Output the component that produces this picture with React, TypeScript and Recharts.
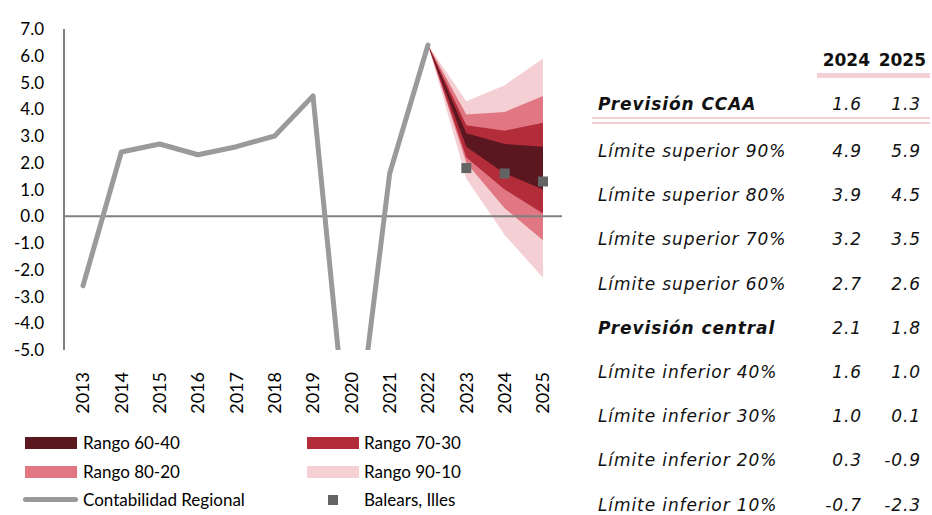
import { ComposedChart, Area, Line, XAxis, YAxis, ReferenceLine } from "recharts"

const years = ["2013", "2014", "2015", "2016", "2017", "2018", "2019", "2020", "2021", "2022", "2023", "2024", "2025"]
const contabilidad = [-2.6, 2.4, 2.7, 2.3, 2.6, 3.0, 4.5, -10.0, 1.6, 6.4, null, null, null]
const balears = [null, null, null, null, null, null, null, null, null, null, 1.8, 1.6, 1.3]

// fan starts at the last observed year
const fanYears = ["2022", "2023", "2024", "2025"]
const sup90 = [6.4, 4.3, 4.9, 5.9]
const sup80 = [6.4, 3.8, 3.9, 4.5]
const sup70 = [6.4, 3.4, 3.2, 3.5]
const sup60 = [6.4, 3.1, 2.7, 2.6]
const inf40 = [6.4, 2.6, 1.6, 1.0]
const inf30 = [6.4, 2.2, 1.0, 0.1]
const inf20 = [6.4, 2.0, 0.3, -0.9]
const inf10 = [6.4, 1.4, -0.7, -2.3]

const yTicks = [-5, -4, -3, -2, -1, 0, 1, 2, 3, 4, 5, 6, 7]

const tableYears = ["2024", "2025"]
const ccaa = ["1.6", "1.3"]
const tableRows = [
  { label: "Límite superior 90%", v: ["4.9", "5.9"], bold: false },
  { label: "Límite superior 80%", v: ["3.9", "4.5"], bold: false },
  { label: "Límite superior 70%", v: ["3.2", "3.5"], bold: false },
  { label: "Límite superior 60%", v: ["2.7", "2.6"], bold: false },
  { label: "Previsión central", v: ["2.1", "1.8"], bold: true },
  { label: "Límite inferior 40%", v: ["1.6", "1.0"], bold: false },
  { label: "Límite inferior 30%", v: ["1.0", "0.1"], bold: false },
  { label: "Límite inferior 20%", v: ["0.3", "-0.9"], bold: false },
  { label: "Límite inferior 10%", v: ["-0.7", "-2.3"], bold: false },
]

const data = years.map((year, i) => {
  const f = fanYears.indexOf(year)
  const row: any = { year, contabilidad: contabilidad[i], balears: balears[i] }
  if (f >= 0) {
    row.b90 = [inf10[f], sup90[f]]
    row.b80 = [inf20[f], sup80[f]]
    row.b70 = [inf30[f], sup70[f]]
    row.b60 = [inf40[f], sup60[f]]
  }
  return row
})

const axisFont = "Lato, 'Open Sans', sans-serif"
const tableFont = "'DejaVu Sans', Verdana, sans-serif"

const C6040 = "#5a1720"
const C7030 = "#b22c3a"
const C8020 = "#e07783"
const C9010 = "#f4d0d5"
const GREY = "#9a9a9c"
const SQUARE = "#646464"

function YearTick(props: any) {
  const { x, y, payload } = props
  return (
    <g transform={`translate(${x},${y + 14}) rotate(-90)`}>
      <text textAnchor="end" dy="0.36em" fontSize={18} fontFamily={axisFont} fill="#000">
        {payload.value}
      </text>
    </g>
  )
}

function SquareDot(props: any) {
  const { cx, cy, value, index } = props
  if (value == null || cy == null) return <g key={index} />
  return <rect key={index} x={cx - 5} y={cy - 5} width={10} height={10} fill={SQUARE} />
}

function Swatch({ color }: { color: string }) {
  return <div style={{ width: 52, height: 12, background: color }} />
}

const legendText: any = { position: "absolute", fontFamily: axisFont, fontSize: 17, lineHeight: "20px", color: "#000", whiteSpace: "nowrap" }
const cell: any = { position: "absolute", fontFamily: tableFont, fontSize: 17, lineHeight: "18px", color: "#111", whiteSpace: "nowrap", letterSpacing: 0.9 }

export default function App() {
  const rowTop = (c: number) => c - 9
  return (
    <div style={{ position: "absolute", left: 0, top: 0, width: 932, height: 515, background: "#fff", overflow: "hidden" }}>
      <div style={{ position: "absolute", left: 0, top: 0 }}>
        <ComposedChart width={580} height={420} data={data} margin={{ top: 29, right: 18, left: 0, bottom: 0 }}>
          <XAxis
            dataKey="year"
            axisLine={false}
            tickLine={false}
            height={70}
            interval={0}
            padding={{ left: 19, right: 19 }}
            tick={<YearTick />}
          />
          <YAxis
            domain={[-5, 7]}
            ticks={yTicks}
            allowDataOverflow
            width={64}
            tickLine={false}
            tickMargin={14}
            axisLine={{ stroke: "#808080", strokeWidth: 2 }}
            tickFormatter={(v: number) => v.toFixed(1)}
            tick={{ fontSize: 17, fontFamily: axisFont, fill: "#000" }}
          />
          <ReferenceLine y={0} stroke="#808080" strokeWidth={2} />
          <Area dataKey="b90" type="linear" fill={C9010} fillOpacity={1} stroke="none" isAnimationActive={false} />
          <Area dataKey="b80" type="linear" fill={C8020} fillOpacity={1} stroke="none" isAnimationActive={false} />
          <Area dataKey="b70" type="linear" fill={C7030} fillOpacity={1} stroke="none" isAnimationActive={false} />
          <Area dataKey="b60" type="linear" fill={C6040} fillOpacity={1} stroke="none" isAnimationActive={false} />
          <Line
            dataKey="contabilidad"
            type="linear"
            stroke={GREY}
            strokeWidth={5}
            strokeLinejoin="round"
            strokeLinecap="round"
            dot={false}
            activeDot={false}
            isAnimationActive={false}
          />
          <Line dataKey="balears" stroke="none" dot={<SquareDot />} activeDot={false} isAnimationActive={false} />
        </ComposedChart>
      </div>

      {/* legend */}
      <div style={{ position: "absolute", left: 25, top: 437 }}><Swatch color={C6040} /></div>
      <div style={{ ...legendText, left: 83, top: 433 }}>Rango 60-40</div>
      <div style={{ position: "absolute", left: 307, top: 437 }}><Swatch color={C7030} /></div>
      <div style={{ ...legendText, left: 364, top: 433 }}>Rango 70-30</div>
      <div style={{ position: "absolute", left: 25, top: 466 }}><Swatch color={C8020} /></div>
      <div style={{ ...legendText, left: 83, top: 462 }}>Rango 80-20</div>
      <div style={{ position: "absolute", left: 307, top: 466 }}><Swatch color={C9010} /></div>
      <div style={{ ...legendText, left: 364, top: 462 }}>Rango 90-10</div>
      <div style={{ position: "absolute", left: 23, top: 497, width: 55, height: 5, borderRadius: 3, background: GREY }} />
      <div style={{ ...legendText, left: 83, top: 490 }}>Contabilidad Regional</div>
      <div style={{ position: "absolute", left: 328, top: 495, width: 10, height: 10, background: SQUARE }} />
      <div style={{ ...legendText, left: 364, top: 490 }}>Balears, Illes</div>

      {/* table */}
      {tableYears.map((y, i) => (
        <div
          key={y}
          style={{ ...cell, letterSpacing: 0, top: rowTop(60), left: i === 0 ? 800 : 860, width: i === 0 ? 70 : 66, textAlign: "right", fontWeight: "bold" }}
        >
          {y}
        </div>
      ))}
      <div style={{ position: "absolute", left: 817, top: 73, width: 113, height: 5, background: C9010 }} />
      <div style={{ ...cell, top: rowTop(104), left: 598, fontWeight: "bold", fontStyle: "italic" }}>Previsión CCAA</div>
      {ccaa.map((v, i) => (
        <div key={i} style={{ ...cell, top: rowTop(104), left: i === 0 ? 800 : 860, width: i === 0 ? 62 : 61, textAlign: "right", fontStyle: "italic" }}>
          {v}
        </div>
      ))}
      <div style={{ position: "absolute", left: 592, top: 117, width: 338, height: 2, background: C9010 }} />
      <div style={{ position: "absolute", left: 592, top: 122, width: 338, height: 2, background: C9010 }} />
      {tableRows.map((r, k) => {
        const c = 151 + k * 44.2
        return (
          <div key={r.label}>
            <div style={{ ...cell, top: rowTop(c), left: 598, fontStyle: "italic", fontWeight: r.bold ? "bold" : "normal" }}>{r.label}</div>
            {r.v.map((v, i) => (
              <div key={i} style={{ ...cell, top: rowTop(c), left: i === 0 ? 800 : 860, width: i === 0 ? 62 : 61, textAlign: "right", fontStyle: "italic" }}>
                {v}
              </div>
            ))}
          </div>
        )
      })}
    </div>
  )
}
